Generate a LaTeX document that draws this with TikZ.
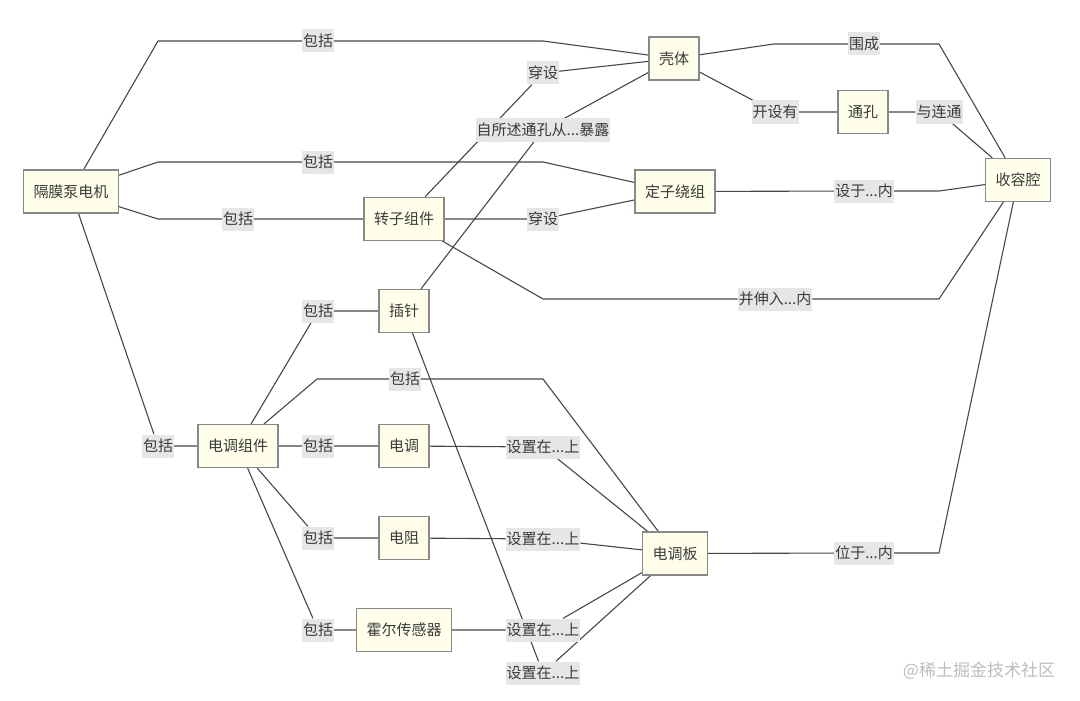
\documentclass[tikz,border=0pt]{standalone}
\usepackage{fontspec}
\setmainfont{Noto Sans CJK SC}
\usetikzlibrary{backgrounds}
\definecolor{boxfill}{HTML}{FEFEEA}
\definecolor{boxline}{HTML}{888888}
\definecolor{edgec}{HTML}{474747}
\definecolor{lblbg}{HTML}{E6E6E6}
\definecolor{txt}{HTML}{3A3A3A}
\definecolor{wm}{HTML}{BDBDBD}
\begin{document}
\begin{tikzpicture}[x=1pt,y=-1pt,
  ent/.style={draw=boxline, fill=boxfill, line width=1.2pt, text=txt, font=\fontsize{15}{15}\selectfont, inner xsep=10pt, inner ysep=0pt, minimum height=43pt},
  rel/.style={fill=lblbg, text=txt, font=\fontsize{15}{15}\selectfont, inner xsep=1pt, inner ysep=0pt, minimum height=23pt},
  conn/.style={draw=edgec, line width=1.1pt, line join=round}]
\useasboundingbox (0,0) rectangle (1080,701);

% entity boxes
\node[ent] (motor)  at (71,191.5) {隔膜泵电机};
\node[ent] (shell)  at (674,58.5) {壳体};
\node[ent] (hole)   at (863,112) {通孔};
\node[ent] (cavity) at (1018,180) {收容腔};
\node[ent] (stator) at (675,191.5) {定子绕组};
\node[ent] (rotor)  at (404,219) {转子组件};
\node[ent] (pin)    at (404,311) {插针};
\node[ent] (escasm) at (238,446) {电调组件};
\node[ent] (esc)    at (404,446) {电调};
\node[ent] (res)    at (404,538) {电阻};
\node[ent] (hall)   at (404,630) {霍尔传感器};
\node[ent] (board)  at (675,553.5) {电调板};

% relation labels
\node[rel] (l1)  at (318,41)  {包括};
\node[rel] (l2)  at (318,162) {包括};
\node[rel] (l3)  at (238,219) {包括};
\node[rel] (l4)  at (158,446) {包括};
\node[rel] (l5)  at (543,73)  {穿设};
\node[rel] (l6)  at (543,130) {自所述通孔从...暴露};
\node[rel] (l7)  at (543,219) {穿设};
\node[rel] (l8)  at (864,44)  {围成};
\node[rel] (l9)  at (775,112) {开设有};
\node[rel] (l10) at (939,112) {与连通};
\node[rel] (l11) at (864,191) {设于...内};
\node[rel] (l12) at (775,299) {并伸入...内};
\node[rel] (l13) at (318,311) {包括};
\node[rel] (l14) at (405,379) {包括};
\node[rel] (l15) at (318,446) {包括};
\node[rel] (l16) at (318,538) {包括};
\node[rel] (l17) at (318,630) {包括};
\node[rel] (l18) at (543,447) {设置在...上};
\node[rel] (l19) at (543,539) {设置在...上};
\node[rel] (l20) at (543,630) {设置在...上};
\node[rel] (l21) at (543,673) {设置在...上};
\node[rel] (l22) at (864,553) {位于...内};

% watermark
\node[text=wm, font=\fontsize{17}{17}\selectfont, inner sep=0pt] (wmk) at (979,671) {@稀土掘金技术社区};

% bend points
\coordinate (m1) at (158,41);
\coordinate (m2) at (158,162);
\coordinate (m3) at (158,219);
\coordinate (a1) at (543,41);
\coordinate (a2) at (543,162);
\coordinate (r1) at (774,44);
\coordinate (r2) at (939,44);
\coordinate (r3) at (939,191);
\coordinate (r4) at (543,299);
\coordinate (r5) at (939,299);
\coordinate (r6) at (939,553);
\coordinate (e1) at (317,379);
\coordinate (e2) at (543,379);

\begin{pgfonlayer}{background}
\fill[white] (0,0) rectangle (1080,701);
\draw[conn] (motor) -- (m1) -- (l1) -- (a1) -- (shell);
\draw[conn] (motor) -- (m2) -- (l2) -- (a2) -- (stator);
\draw[conn] (motor) -- (m3) -- (l3) -- (rotor);
\draw[conn] (motor) -- (l4) -- (escasm);
\draw[conn] (rotor) -- (l5) -- (shell);
\draw[conn] (pin) -- (l6) -- (shell);
\draw[conn] (rotor) -- (l7) -- (stator);
\draw[conn] (shell) -- (r1) -- (l8) -- (r2) -- (cavity);
\draw[conn] (shell) -- (l9) -- (hole);
\draw[conn] (hole) -- (l10) -- (cavity);
\draw[conn] (stator) -- (l11) -- (r3) -- (cavity);
\draw[conn] (rotor) -- (r4) -- (l12) -- (r5) -- (cavity);
\draw[conn] (escasm) -- (l13) -- (pin);
\draw[conn] (escasm) -- (e1) -- (l14) -- (e2) -- (board);
\draw[conn] (escasm) -- (l15) -- (esc) -- (l18) -- (board);
\draw[conn] (escasm) -- (l16) -- (res) -- (l19) -- (board);
\draw[conn] (escasm) -- (l17) -- (hall) -- (l20) -- (board);
\draw[conn] (pin) -- (l21) -- (board);
\draw[conn] (board) -- (l22) -- (r6) -- (cavity);
\end{pgfonlayer}
\end{tikzpicture}
\end{document}
